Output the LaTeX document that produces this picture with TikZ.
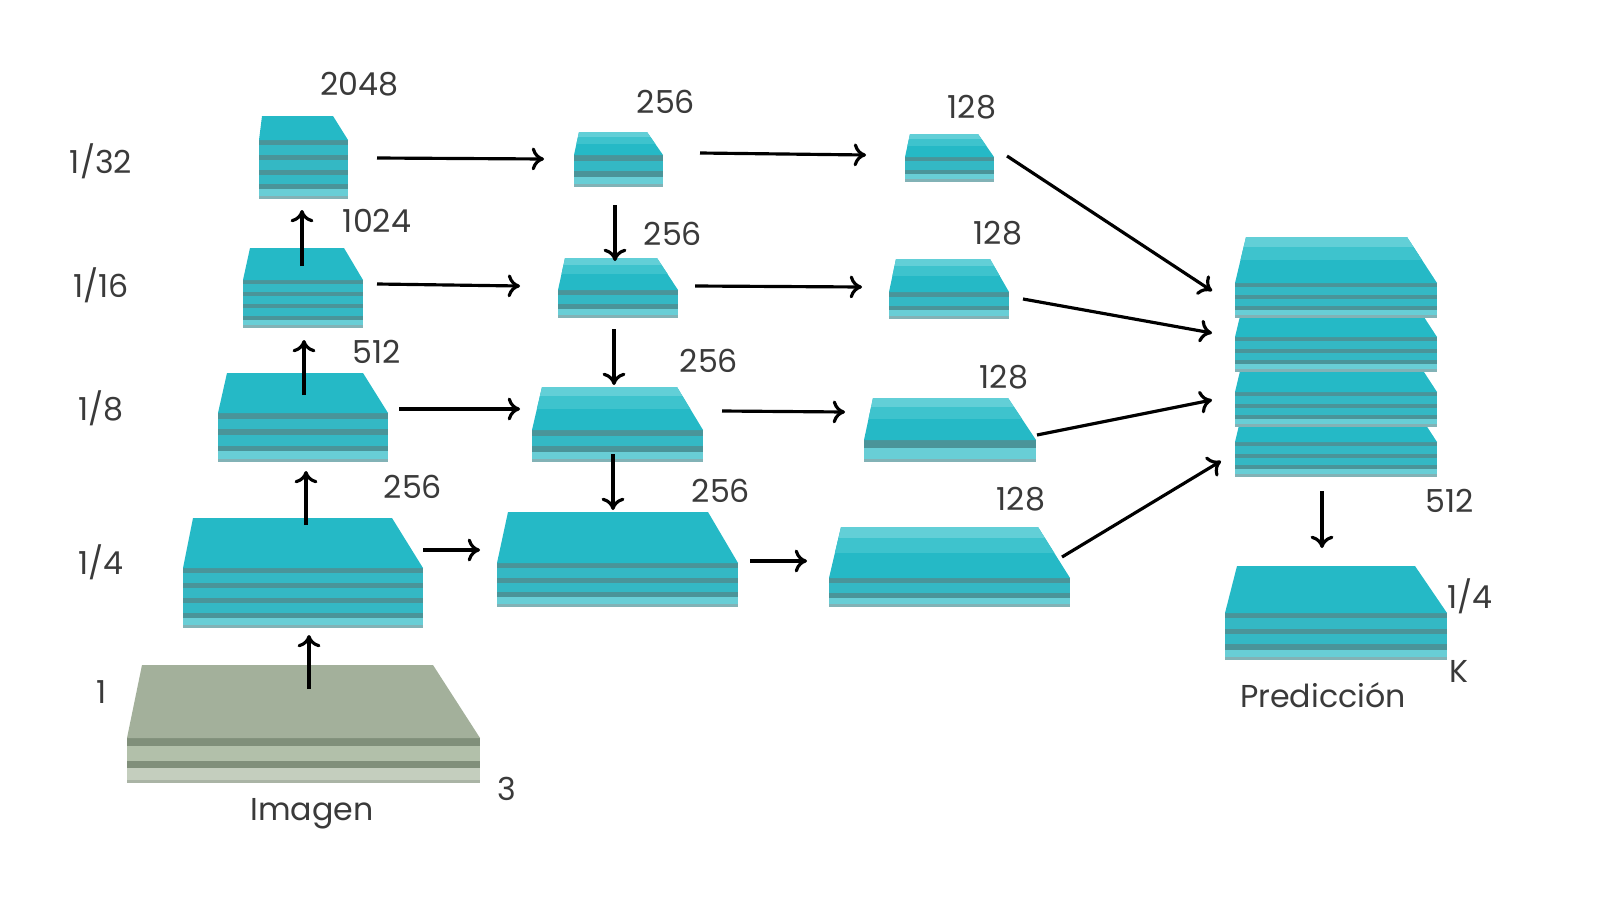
\documentclass[tikz,border=0pt]{standalone}
\usepackage{fontspec}
\setmainfont{Poppins}
\usetikzlibrary{arrows.meta}

\definecolor{facec}{RGB}{37,185,198}
\definecolor{ghostc}{RGB}{98,207,215}
\definecolor{midc}{RGB}{62,195,205}
\definecolor{bandc}{RGB}{74,148,153}
\definecolor{layerc}{RGB}{52,184,196}
\definecolor{lastc}{RGB}{104,206,214}
\definecolor{basec}{RGB}{130,178,182}
\definecolor{txtc}{RGB}{58,58,58}

% \fmap{top left x}{top right x}{bottom left x}{bottom right x}{top y}{face y}{bottom y}{layers}{ghost 0/1}
\newcommand{\fmap}[9]{%
  \pgfmathsetmacro{\lh}{(#7-#6)/#8}
  \foreach \k in {1,...,#8}{%
    \pgfmathsetmacro{\ya}{#6+(\k-1)*\lh}
    \pgfmathsetmacro{\yb}{#6+\k*\lh}
    \ifnum\k=#8
      \fill[lastc] (#3,\ya) rectangle (#4,\yb);
      \fill[basec] (#3,\yb-3.5) rectangle (#4,\yb);
    \else
      \fill[layerc] (#3,\ya) rectangle (#4,\yb);
    \fi
    \fill[bandc] (#3,\ya) rectangle (#4,\ya+0.35*\lh);
  }
  \fill[facec] (#1,#5) -- (#2,#5) -- (#4,#6) -- (#3,#6) -- cycle;
  \ifnum#9=1
    \begin{scope}
      \clip (#1,#5) -- (#2,#5) -- (#4,#6) -- (#3,#6) -- cycle;
      \fill[ghostc] (#3,#5) rectangle (#4,{#5+0.22*(#6-#5)});
      \fill[midc] (#3,{#5+0.22*(#6-#5)}) rectangle (#4,{#5+0.5*(#6-#5)});
    \end{scope}
  \fi
}

\begin{document}
\begin{tikzpicture}[x=0.01cm,y=-0.01cm,
    lbl/.style={text=txtc,font=\fontsize{9}{11}\selectfont,inner sep=0pt},
    arr/.style={-{To[length=3.5pt,width=6.5pt]},line width=0.9pt}]
  \useasboundingbox (0,0) rectangle (1600,900);
  % input image
  \begin{scope}
    \colorlet{facec}{rgb,255:red,163;green,176;blue,155}
    \colorlet{bandc}{rgb,255:red,128;green,143;blue,122}
    \colorlet{layerc}{rgb,255:red,178;green,192;blue,170}
    \colorlet{lastc}{rgb,255:red,196;green,206;blue,190}
    \colorlet{basec}{rgb,255:red,170;green,180;blue,165}
    \fmap{142}{433}{127}{480}{665}{738}{783}{2}{0}
  \end{scope}
  % backbone
  \fmap{262}{333}{259}{348}{116}{140}{199}{4}{0}
  \fmap{250}{344}{243}{363}{248}{280}{328}{4}{0}
  \fmap{227}{363}{218}{388}{373}{413}{462}{3}{0}
  \fmap{193}{392}{183}{423}{518}{568}{628}{4}{0}
  % top-down path
  \fmap{579}{647}{574}{663}{132}{155}{187}{2}{1}
  \fmap{565}{657}{558}{678}{258}{290}{318}{2}{1}
  \fmap{542}{677}{532}{703}{387}{430}{462}{2}{1}
  \fmap{508}{708}{497}{738}{512}{563}{607}{3}{0}
  % reduced maps
  \fmap{910}{978}{905}{994}{134}{157}{182}{2}{1}
  \fmap{896}{990}{889}{1009}{259}{292}{319}{2}{1}
  \fmap{873}{1008}{864}{1036}{398}{440}{462}{1}{1}
  \fmap{841}{1038}{829}{1070}{527}{578}{607}{2}{1}
  % concatenation
  \fmap{1246}{1407}{1235}{1437}{396}{442}{477}{3}{0}
  \fmap{1246}{1407}{1235}{1437}{346}{392}{427}{3}{0}
  \fmap{1246}{1407}{1235}{1437}{291}{337}{372}{3}{0}
  \fmap{1246}{1407}{1235}{1437}{237}{283}{318}{3}{1}
  % prediction
  \fmap{1237}{1415}{1225}{1447}{566}{613}{660}{3}{0}

  % arrows
  \foreach \xa/\ya/\xb/\yb [count=\i] in {
      309/689/309/635, 306/525/306/471, 304/395/304/340, 302/266/302/210,
      377/158/544/159, 700/153/866/155, 377/284/520/286, 695/286/862/287,
      399/409/520/409, 722/411/845/412, 423/550/480/550, 750/561/807/561,
      615/205/615/261, 614/329/614/385, 613/454/613/510,
      1007/156/1212/291, 1023/299/1212/333, 1037/435/1212/400, 1062/557/1221/461,
      1322/491/1322/548}{
    \coordinate (s\i) at (\xa,\ya);
    \coordinate (e\i) at (\xb,\yb);
    \draw[arr] (s\i) -- (e\i);
  }

  % scale labels
  \node[lbl] (r32) at (101,161) {1/32};
  \node[lbl] (r16) at (101,285) {1/16};
  \node[lbl] (r8) at (101,408) {1/8};
  \node[lbl] (r4) at (101,562) {1/4};
  \node[lbl] (r1) at (102,692) {1};
  % channel labels
  \node[lbl] (c2048) at (359,84) {2048};
  \node[lbl] (c1024) at (377,221) {1024};
  \node[lbl] (c512) at (377,352) {512};
  \node[lbl] (c256) at (413,487) {256};
  \node[lbl] (c3) at (507,789) {3};
  \node[lbl] (imgtxt) at (312,814) {Imagen};
  \node[lbl] (p32) at (666,102) {256};
  \node[lbl] (p16) at (673,234) {256};
  \node[lbl] (p8) at (709,361) {256};
  \node[lbl] (p4) at (721,491) {256};
  \node[lbl] (q32) at (972,107) {128};
  \node[lbl] (q16) at (998,233) {128};
  \node[lbl] (q8) at (1004,377) {128};
  \node[lbl] (q4) at (1021,499) {128};
  \node[lbl] (cat) at (1450,501) {512};
  \node[lbl] (out4) at (1470,596) {1/4};
  \node[lbl] (outk) at (1459,671) {K};
  \node[lbl] (predtxt) at (1323,695) {Predicción};
\end{tikzpicture}
\end{document}
